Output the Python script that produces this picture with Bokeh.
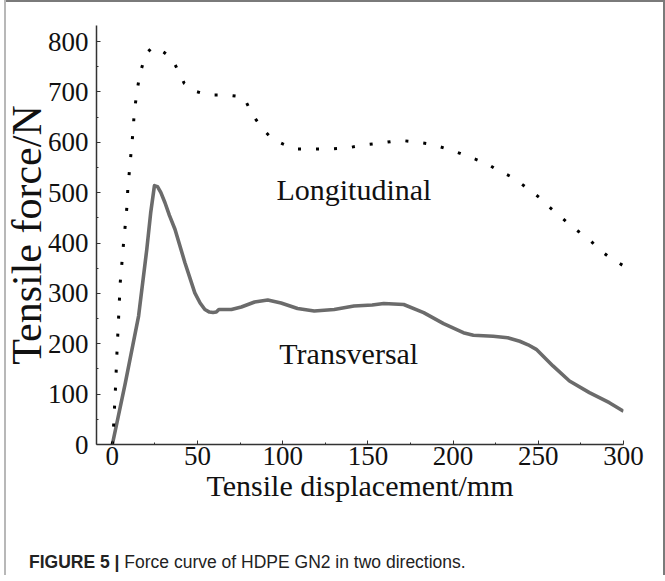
from bokeh.plotting import figure
from bokeh.models import Range1d, Label, FixedTicker, Div
from bokeh.layouts import column
from bokeh.embed import file_html
from bokeh.resources import INLINE

# ---- data ----
long_x = [0, 0.8, 1.8, 2.7, 3.7, 4.6, 5.7, 6.6, 7.6, 8.6, 9.1, 10.1, 11.1, 12.1, 12.8,
          13.8, 15, 16.2, 18.7, 21, 23.5, 27, 30.2, 34.8, 38.7, 42.2, 48, 56.2, 67, 77,
          80.2, 84.5, 88.4, 93.8, 100, 107.4, 117.9, 128.2, 138.3, 147.7, 158.4, 168.7,
          177.8, 187.5, 196.3, 204.1, 211.9, 219.6, 226.5, 233.3, 239.1, 245.9, 250.8,
          255.6, 261.5, 267.3, 273.2, 280, 285.8, 291.7, 299.4]
long_y = [0, 41, 109, 182, 254, 320, 364, 401, 436, 474, 510, 546, 584, 620, 656,
          684, 712, 736, 765, 780, 789, 786, 779, 767, 742, 717, 702, 694, 694, 690,
          669, 644, 626, 607, 597, 587, 587, 587, 589, 595, 599, 604,
          601, 596, 587, 578, 568, 558, 544, 533, 520, 503, 490,
          474, 457, 440, 424, 407, 387, 372, 356]

trans_x = [0, 7.6, 15.4, 20.2, 22.5, 24.7, 26.5, 28.5, 30.9, 33.5, 36.8, 42.6, 48.4, 51.5,
           54.3, 57, 59.1, 61, 62.5, 69.9, 75.7, 83.5, 91.2, 99, 108.7, 118.5, 130.2,
           141.8, 152.5, 159.3, 171, 182.7, 194.4, 206, 211.9, 223.5, 232, 239.1, 244,
           248.8, 258.6, 268.3, 280, 291.7, 300]
trans_y = [0, 122, 255, 387, 460, 514, 512, 500, 480, 455, 427, 361, 301, 281,
           268, 263, 262, 263, 268, 268, 273, 283, 287, 281, 270, 265, 268,
           275, 277, 280, 278, 262, 240, 222, 217, 215, 212, 205, 198,
           189, 156, 126, 103, 83, 66]

x_ticks = [0, 50, 100, 150, 200, 250, 300]
x_minor = [25, 75, 125, 175, 225, 275]
y_ticks = [0, 100, 200, 300, 400, 500, 600, 700, 800]
y_minor = [50, 150, 250, 350, 450, 550, 650, 750]

caption_bold = "FIGURE 5 |"
caption_text = "Force curve of HDPE GN2 in two directions."

SERIF = "Liberation Serif"

p = figure(width=655, height=520, x_range=Range1d(-9.3, 300), y_range=Range1d(0, 832),
           output_backend="svg", toolbar_location=None,
           min_border_left=93, min_border_right=32, min_border_top=25, min_border_bottom=76)
p.outline_line_color = None
p.grid.visible = False
p.background_fill_color = "white"
p.border_fill_color = None   # transparent, so the frame lines of the page show through

p.line(trans_x, trans_y, line_color="#6b6b6b", line_width=3.6, line_join="round")
p.line(long_x, long_y, line_color="black", line_width=3, line_dash="3 15", line_cap="butt")

for ax, tk, mn, lab in ((p.xaxis[0], x_ticks, x_minor, "Tensile displacement/mm"),
                        (p.yaxis[0], y_ticks, y_minor, "Tensile force/N")):
    ax.ticker = FixedTicker(ticks=tk, minor_ticks=mn)
    ax.axis_label = lab
    ax.axis_label_text_font = SERIF
    ax.axis_label_text_font_size = "30px"
    ax.axis_label_text_font_style = "normal"
    ax.axis_label_text_color = "#111111"
    ax.major_label_text_font = SERIF
    ax.major_label_text_font_size = "27px"
    ax.major_label_text_color = "#111111"
    ax.axis_line_color = "#333333"
    ax.axis_line_width = 1.5
    ax.major_tick_line_color = "#333333"
    ax.minor_tick_line_color = "#333333"
    ax.major_tick_in = 4
    ax.major_tick_out = 0
    ax.minor_tick_in = 2
    ax.minor_tick_out = 0

p.xaxis[0].major_label_standoff = 2
p.yaxis[0].major_label_standoff = 8
p.xaxis[0].axis_label_standoff = 1
p.yaxis[0].axis_label_text_font_size = "42px"
p.yaxis[0].axis_label_standoff = -5

p.add_layout(Label(x=96.3, y=506, text="Longitudinal", text_font=SERIF,
                   text_font_size="30px", text_color="#111111", text_baseline="alphabetic"))
p.add_layout(Label(x=98, y=181, text="Transversal", text_font=SERIF,
                   text_font_size="30px", text_color="#111111", text_baseline="alphabetic"))

cap = Div(text="<b>%s</b> %s" % (caption_bold, caption_text), width=655, height=45,
          styles={"font-family": "'Liberation Sans', Arial, sans-serif",
                  "font-size": "17.5px", "color": "#222222",
                  "padding-top": "25px", "padding-left": "24px",
                  "box-sizing": "border-box", "white-space": "nowrap"})

layout = column(p, cap, spacing=0,
                styles={"background-color": "white",
                        "box-shadow": ("inset 4px 0 0 0 white, inset 6px 0 0 0 #b8b8b8, "
                                       "inset 0 2px 0 0 #7a7a7a, inset -2px 0 0 0 #7a7a7a")})

open("out.html", "w").write(file_html(layout, INLINE))
